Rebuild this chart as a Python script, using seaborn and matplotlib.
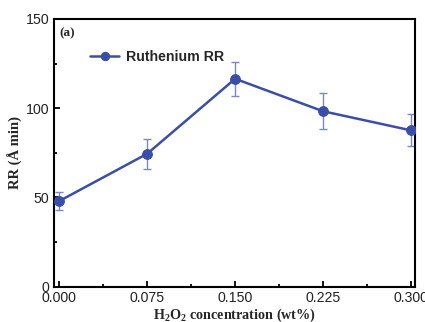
import matplotlib
matplotlib.use("Agg")
import matplotlib.pyplot as plt
import seaborn as sns
import pandas as pd
from matplotlib.ticker import MultipleLocator

conc = [0.000, 0.075, 0.150, 0.225, 0.300]
rr = [48.0, 74.5, 116.5, 98.3, 87.6]
err = [5.0, 8.3, 9.5, 10.0, 9.0]
xticks = [0.000, 0.075, 0.150, 0.225, 0.300]
xticklabels = ["0.000", "0.075", "0.150", "0.225", "0.300"]
yticks = [0, 50, 100, 150]

df = pd.DataFrame({"conc": conc, "rr": rr, "err": err})

sns.set_style("ticks")
plt.rcParams["font.family"] = ["Liberation Sans", "DejaVu Sans"]
plt.rcParams["mathtext.fontset"] = "custom"
plt.rcParams["mathtext.rm"] = "Liberation Serif:bold"
plt.rcParams["mathtext.it"] = "Liberation Serif:bold"
plt.rcParams["mathtext.bf"] = "Liberation Serif:bold"
plt.rcParams["mathtext.default"] = "rm"

fig = plt.figure(figsize=(4.25, 3.22), dpi=100)
ax = fig.add_axes([54/425, 1 - 286.7/322, (415-54)/425, (286.7-19)/322])

line_c = "#3a4ea8"
err_c = "#7d86c8"
ax.errorbar(df["conc"], df["rr"], yerr=df["err"], fmt="none", ecolor=err_c,
            elinewidth=1.0, capsize=3, capthick=1.0, zorder=2)
sns.lineplot(data=df, x="conc", y="rr", ax=ax, color=line_c, linewidth=1.8,
             marker="o", markersize=7, markeredgecolor=line_c,
             markerfacecolor=line_c, label="Ruthenium RR", zorder=3)

ax.set_xlim(-0.0045, 0.3034)
ax.set_ylim(0, 150)
ax.set_xticks(xticks)
ax.set_xticklabels(xticklabels)
ax.set_yticks(yticks)
ax.xaxis.set_minor_locator(MultipleLocator(0.0375))
ax.yaxis.set_minor_locator(MultipleLocator(25))
ax.tick_params(which="both", direction="in", labelsize=10.2, width=1.3,
               color="black", labelcolor="#222222")
ax.tick_params(which="major", length=4)
ax.tick_params(which="minor", length=2.5)
ax.tick_params(axis="x", pad=3)
for s in ax.spines.values():
    s.set_linewidth(1.5)
    s.set_color("black")

ax.set_xlabel("H$_2$O$_2$ concentration (wt%)", fontfamily="Liberation Serif",
              fontweight="bold", fontsize=10.2, labelpad=1)
ax.set_ylabel("RR (Å min)", fontfamily="Liberation Serif", fontweight="bold",
              fontsize=10.5, labelpad=2)

ax.text(0.015, 0.945, "(a)", transform=ax.transAxes, fontfamily="Liberation Serif",
        fontweight="bold", fontsize=9.5, va="center", ha="left")

leg = ax.legend(loc="upper left", bbox_to_anchor=(0.083, 0.905), frameon=False,
                prop={"family": "Liberation Sans", "weight": "bold", "size": 10.2},
                handlelength=2.1, handletextpad=0.5, borderaxespad=0,
                markerscale=0.85)

fig.savefig("out.png", dpi=100)
